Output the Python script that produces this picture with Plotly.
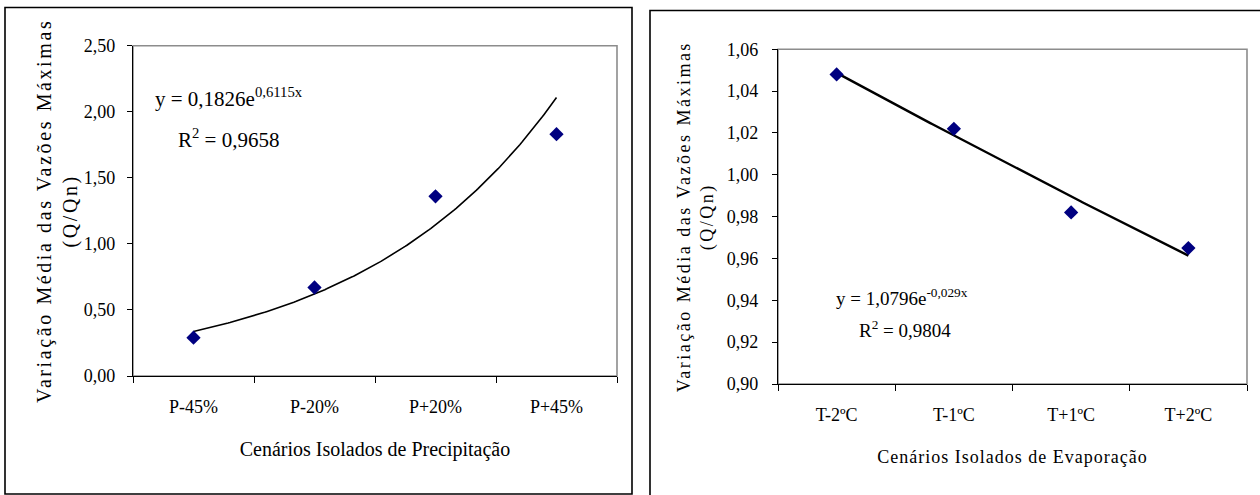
import numpy as np
import plotly.graph_objects as go

# ---------------- data ----------------
precip_categories = ["P-45%", "P-20%", "P+20%", "P+45%"]
precip_values = [0.29, 0.67, 1.36, 1.83]
precip_fit_a = 0.1826
precip_fit_b = 0.6115
precip_eq_text = "y = 0,1826e<sup>0,6115x</sup>"
precip_r2_text = "R<sup>2</sup> = 0,9658"

evap_categories = ["T-2ºC", "T-1ºC", "T+1ºC", "T+2ºC"]
evap_values = [1.048, 1.022, 0.982, 0.965]
evap_fit_a = 1.0796
evap_fit_b = -0.029
evap_eq_text = "y = 1,0796e<sup>-0,029x</sup>"
evap_r2_text = "R<sup>2</sup> = 0,9804"

y_title_line1 = "Variação Média das Vazões Máximas"
y_title_line2 = "(Q/Qn)"
precip_x_title = "Cenários Isolados de Precipitação"
evap_x_title = "Cenários Isolados de Evaporação"

# ---------------- figure ----------------
W, H = 1260, 495
FONT = "Liberation Serif"
NAVY = "#000080"


def px_x(p):
    return p / W


def px_y(p):
    return 1 - p / H


fig = go.Figure()

px_pos = list(range(1, len(precip_categories) + 1))
ev_pos = list(range(1, len(evap_categories) + 1))

# trendlines (from the displayed Excel equations)
xs1 = np.linspace(px_pos[0], px_pos[-1], 200)
fig.add_trace(go.Scatter(x=xs1, y=precip_fit_a * np.exp(precip_fit_b * xs1),
                         mode="lines", line=dict(color="black", width=1.6),
                         xaxis="x", yaxis="y", hoverinfo="skip"))
fig.add_trace(go.Scatter(x=px_pos, y=precip_values, mode="markers",
                         marker=dict(symbol="diamond", size=11, color=NAVY),
                         xaxis="x", yaxis="y"))

xs2 = np.linspace(ev_pos[0], ev_pos[-1], 200)
fig.add_trace(go.Scatter(x=xs2, y=evap_fit_a * np.exp(evap_fit_b * xs2),
                         mode="lines", line=dict(color="black", width=2.4),
                         xaxis="x2", yaxis="y2", hoverinfo="skip"))
fig.add_trace(go.Scatter(x=ev_pos, y=evap_values, mode="markers",
                         marker=dict(symbol="diamond", size=11, color=NAVY),
                         xaxis="x2", yaxis="y2"))

tick_font = dict(family=FONT, size=18, color="black")


def xaxis_cfg(domain, cats, anchor, title, tsize, standoff):
    n = len(cats)
    return dict(domain=domain, anchor=anchor, range=[0.5, n + 0.5],
                tickmode="array", tickvals=list(range(1, n + 1)), ticktext=cats,
                ticks="", showgrid=False, zeroline=False, automargin=False,
                showline=True, linecolor="black", linewidth=1.2,
                tickfont=tick_font, ticklabelstandoff=14,
                minor=dict(tickmode="array",
                           tickvals=[i + 0.5 for i in range(n + 1)],
                           ticks="outside", ticklen=6, tickcolor="black",
                           tickwidth=1, showgrid=False),
                title=dict(text=title, standoff=standoff,
                           font=dict(family=FONT, size=tsize, color="black")),
                fixedrange=True)


def yaxis_cfg(domain, rng, dtick, anchor, standoff, tsize, tstandoff):
    return dict(domain=domain, anchor=anchor, range=rng, dtick=dtick,
                tick0=rng[0], tickformat=".2f", ticks="outside", ticklen=5,
                tickcolor="black", tickwidth=1, showgrid=False, zeroline=False,
                automargin=False,
                showline=True, linecolor="black", linewidth=1.2,
                tickfont=tick_font, ticklabelstandoff=standoff,
                title=dict(text=y_title_line1 + "<br>" + y_title_line2,
                           standoff=tstandoff,
                           font=dict(family=FONT, size=tsize, color="black")),
                fixedrange=True)


fig.update_layout(
    width=W, height=H,
    margin=dict(l=0, r=0, t=0, b=0),
    paper_bgcolor="white", plot_bgcolor="white",
    showlegend=False, separators=", ",
    font=dict(family=FONT, color="black"),
    xaxis=xaxis_cfg([px_x(133), px_x(617)], precip_categories, "y",
                    precip_x_title, 20, 26),
    yaxis=yaxis_cfg([px_y(376), px_y(45.7)], [0, 2.5], 0.5, "x", 8, 20, 0),
    xaxis2=xaxis_cfg([px_x(778), px_x(1247)], evap_categories, "y2",
                     evap_x_title, 18, 26),
    yaxis2=yaxis_cfg([px_y(384), px_y(49.3)], [0.90, 1.06], 0.02, "x2", 10, 18, 8),
)

# plot-area borders (grey) and outer chart frames (black)
fig.add_shape(type="rect", xref="x domain", yref="y domain", x0=0, x1=1, y0=0, y1=1,
              line=dict(color="#8c8c8c", width=1.6), layer="below")
fig.add_shape(type="rect", xref="x2 domain", yref="y2 domain", x0=0, x1=1, y0=0, y1=1,
              line=dict(color="#8c8c8c", width=1.6), layer="below")
fig.add_shape(type="rect", xref="paper", yref="paper",
              x0=px_x(5), x1=px_x(632), y0=px_y(494), y1=px_y(7.5),
              line=dict(color="black", width=1.6), layer="below")
fig.add_shape(type="rect", xref="paper", yref="paper",
              x0=px_x(650), x1=px_x(1275), y0=px_y(510), y1=px_y(10.5),
              line=dict(color="black", width=1.6), layer="below")

ann = []
# trendline equations
ann.append(dict(text=precip_eq_text, x=px_x(153), y=px_y(97), xref="paper", yref="paper",
                showarrow=False, xanchor="left", yanchor="middle",
                font=dict(family=FONT, size=21, color="black")))
ann.append(dict(text=precip_r2_text, x=px_x(176), y=px_y(138), xref="paper", yref="paper",
                showarrow=False, xanchor="left", yanchor="middle",
                font=dict(family=FONT, size=21, color="black")))
ann.append(dict(text=evap_eq_text, x=px_x(834), y=px_y(297), xref="paper", yref="paper",
                showarrow=False, xanchor="left", yanchor="middle",
                font=dict(family=FONT, size=19, color="black")))
ann.append(dict(text=evap_r2_text, x=px_x(857), y=px_y(329), xref="paper", yref="paper",
                showarrow=False, xanchor="left", yanchor="middle",
                font=dict(family=FONT, size=19, color="black")))
fig.update_layout(annotations=ann)

# page margin removal + Excel-like letter spacing on the axis titles
post_js = """
document.body.style.margin = '0';
document.body.style.overflow = 'hidden';
(function () {
  function spaceTitles() {
    var gd = document.getElementById('{plot_id}');
    if (!gd) return;
    var a = gd.querySelector('text.ytitle');
    if (a) a.style.letterSpacing = '2.6px';
    var b = gd.querySelector('text.y2title');
    if (b) b.style.letterSpacing = '2.5px';
    var c = gd.querySelector('text.x2title');
    if (c) c.style.letterSpacing = '1px';
  }
  spaceTitles();
  setTimeout(spaceTitles, 50);
})();
"""

fig.write_html("out.html", config={"displayModeBar": False}, post_script=post_js)
